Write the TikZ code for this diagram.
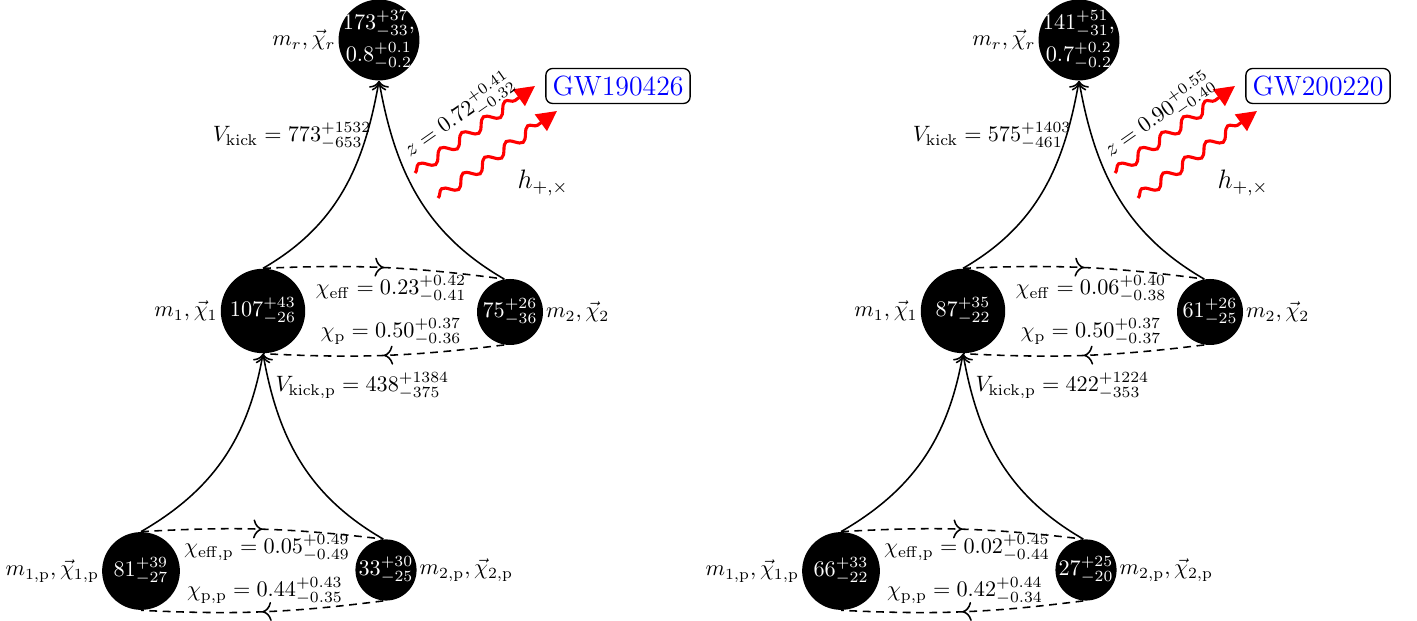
\documentclass[tikz,border=0pt]{standalone}
\usetikzlibrary{arrows.meta,decorations.pathmorphing,decorations.markings}
\tikzset{
  bh/.style={circle, fill=black, inner sep=0pt, text=white},
  intxt/.style={text=white, align=center, inner sep=0pt},
  lbl/.style={inner sep=1pt},
  solidarrow/.style={-{To[scale=1.2]}, line width=0.7pt},
  midarrow/.style={dash pattern=on 3.5pt off 2.5pt, line width=0.7pt, postaction={decorate},
    decoration={markings, mark=at position 0.5 with {\arrow{To[scale=1.3]}}}},
  wave/.style={red, line width=1.4pt, decorate,
    decoration={snake, segment length=12pt, amplitude=2.4pt, post length=8pt},
    -{Triangle[length=9pt,width=9pt]}},
  gwbox/.style={draw, rounded corners=3pt, text=blue, line width=0.6pt,
    font=\fontsize{12.5}{15}\selectfont, inner xsep=3pt, minimum height=15pt},
  hlbl/.style={inner sep=1pt, font=\large},
}
\begin{document}
\begin{tikzpicture}[x=0.45pt, y=0.45pt]
\useasboundingbox (0,0) rectangle (1417,621);
% ---------------- left diagram ----------------
\node[bh, minimum size=36.4pt] (LR) at (379,581) {};
\node[intxt] (LRt) at (LR) {$173^{+37}_{-33}$,\\[1pt] $0.8^{+0.1}_{-0.2}$};
\node[bh, minimum size=38pt] (LA) at (263,310) {$107^{+43}_{-26}$};
\node[bh, minimum size=29.7pt] (LB) at (510,309) {$75^{+26}_{-36}$};
\node[bh, minimum size=35pt] (LC) at (141,50) {$81^{+39}_{-27}$};
\node[bh, minimum size=27pt] (LD) at (386,51) {$33^{+30}_{-25}$};

\node[lbl, anchor=east] (LRl) at (LR.west) {$m_r,\vec{\chi}_r$};
\node[lbl, anchor=east] (LAl) at (LA.west) {$m_1,\vec{\chi}_1$};
\node[lbl, anchor=west] (LBl) at (LB.east) {$m_2,\vec{\chi}_2$};
\node[lbl, anchor=east] (LCl) at (LC.west) {$m_{1,\mathrm{p}},\vec{\chi}_{1,\mathrm{p}}$};
\node[lbl, anchor=west] (LDl) at (LD.east) {$m_{2,\mathrm{p}},\vec{\chi}_{2,\mathrm{p}}$};

\node[lbl, anchor=east] (LVk) at (374,485) {$V_{\mathrm{kick}}=773^{+1532}_{-653}$};
\node[lbl] (Lce) at (391,332) {$\chi_{\mathrm{eff}}=0.23^{+0.42}_{-0.41}$};
\node[lbl] (Lcp) at (391,289) {$\chi_{\mathrm{p}}=0.50^{+0.37}_{-0.36}$};
\node[lbl, anchor=west] (LVkp) at (273,235) {$V_{\mathrm{kick,p}}=438^{+1384}_{-375}$};
\node[lbl] (Lcep) at (267,73) {$\chi_{\mathrm{eff,p}}=0.05^{+0.49}_{-0.49}$};
\node[lbl] (Lcpp) at (265,30) {$\chi_{\mathrm{p,p}}=0.44^{+0.43}_{-0.35}$};

\draw[solidarrow] (LA.north) to[out=30,in=-100] (LR.south);
\draw[solidarrow] (LB.100) to[out=150,in=-80] (LR.south);
\draw[solidarrow] (LC.north) to[out=30,in=-100] (LA.south);
\draw[solidarrow] (LD.95) to[out=150,in=-80] (LA.south);
\draw[midarrow] (LA.north) to[bend left=5] (LB.100);
\draw[midarrow] (LB.260) to[bend left=5] (LA.south);
\draw[midarrow] (LC.north) to[bend left=5] (LD.95);
\draw[midarrow] (LD.265) to[bend left=5] (LC.south);

\coordinate (Lw1s) at (415,448);
\coordinate (Lw1e) at (535,535);
\coordinate (Lw2s) at (438,423);
\coordinate (Lw2e) at (557,510);
\draw[wave] (Lw1s) -- (Lw1e);
\draw[wave] (Lw2s) -- (Lw2e);
\node[lbl, rotate=35] (Lz) at (459,505) {$z=0.72^{+0.41}_{-0.32}$};
\node[hlbl] (Lh) at (543,438) {$h_{+,\times}$};
\node[gwbox] (Lgw) at (618,535) {GW190426};

% ---------------- right diagram ----------------
\begin{scope}[shift={(700,0)}]
\node[bh, minimum size=36.4pt] (RR) at (379,581) {};
\node[intxt] (RRt) at (RR) {$141^{+51}_{-31}$,\\[1pt] $0.7^{+0.2}_{-0.2}$};
\node[bh, minimum size=38pt] (RA) at (263,310) {$87^{+35}_{-22}$};
\node[bh, minimum size=29.7pt] (RB) at (510,309) {$61^{+26}_{-25}$};
\node[bh, minimum size=35pt] (RC) at (141,50) {$66^{+33}_{-22}$};
\node[bh, minimum size=27pt] (RD) at (386,51) {$27^{+25}_{-20}$};

\node[lbl, anchor=east] (RRl) at (RR.west) {$m_r,\vec{\chi}_r$};
\node[lbl, anchor=east] (RAl) at (RA.west) {$m_1,\vec{\chi}_1$};
\node[lbl, anchor=west] (RBl) at (RB.east) {$m_2,\vec{\chi}_2$};
\node[lbl, anchor=east] (RCl) at (RC.west) {$m_{1,\mathrm{p}},\vec{\chi}_{1,\mathrm{p}}$};
\node[lbl, anchor=west] (RDl) at (RD.east) {$m_{2,\mathrm{p}},\vec{\chi}_{2,\mathrm{p}}$};

\node[lbl, anchor=east] (RVk) at (374,485) {$V_{\mathrm{kick}}=575^{+1403}_{-461}$};
\node[lbl] (Rce) at (391,332) {$\chi_{\mathrm{eff}}=0.06^{+0.40}_{-0.38}$};
\node[lbl] (Rcp) at (391,289) {$\chi_{\mathrm{p}}=0.50^{+0.37}_{-0.37}$};
\node[lbl, anchor=west] (RVkp) at (273,235) {$V_{\mathrm{kick,p}}=422^{+1224}_{-353}$};
\node[lbl] (Rcep) at (267,73) {$\chi_{\mathrm{eff,p}}=0.02^{+0.45}_{-0.44}$};
\node[lbl] (Rcpp) at (265,30) {$\chi_{\mathrm{p,p}}=0.42^{+0.44}_{-0.34}$};

\draw[solidarrow] (RA.north) to[out=30,in=-100] (RR.south);
\draw[solidarrow] (RB.100) to[out=150,in=-80] (RR.south);
\draw[solidarrow] (RC.north) to[out=30,in=-100] (RA.south);
\draw[solidarrow] (RD.95) to[out=150,in=-80] (RA.south);
\draw[midarrow] (RA.north) to[bend left=5] (RB.100);
\draw[midarrow] (RB.260) to[bend left=5] (RA.south);
\draw[midarrow] (RC.north) to[bend left=5] (RD.95);
\draw[midarrow] (RD.265) to[bend left=5] (RC.south);

\coordinate (Rw1s) at (415,448);
\coordinate (Rw1e) at (535,535);
\coordinate (Rw2s) at (438,423);
\coordinate (Rw2e) at (557,510);
\draw[wave] (Rw1s) -- (Rw1e);
\draw[wave] (Rw2s) -- (Rw2e);
\node[lbl, rotate=35] (Rz) at (459,505) {$z=0.90^{+0.55}_{-0.40}$};
\node[hlbl] (Rh) at (543,438) {$h_{+,\times}$};
\node[gwbox] (Rgw) at (618,535) {GW200220};
\end{scope}
\end{tikzpicture}
\end{document}
